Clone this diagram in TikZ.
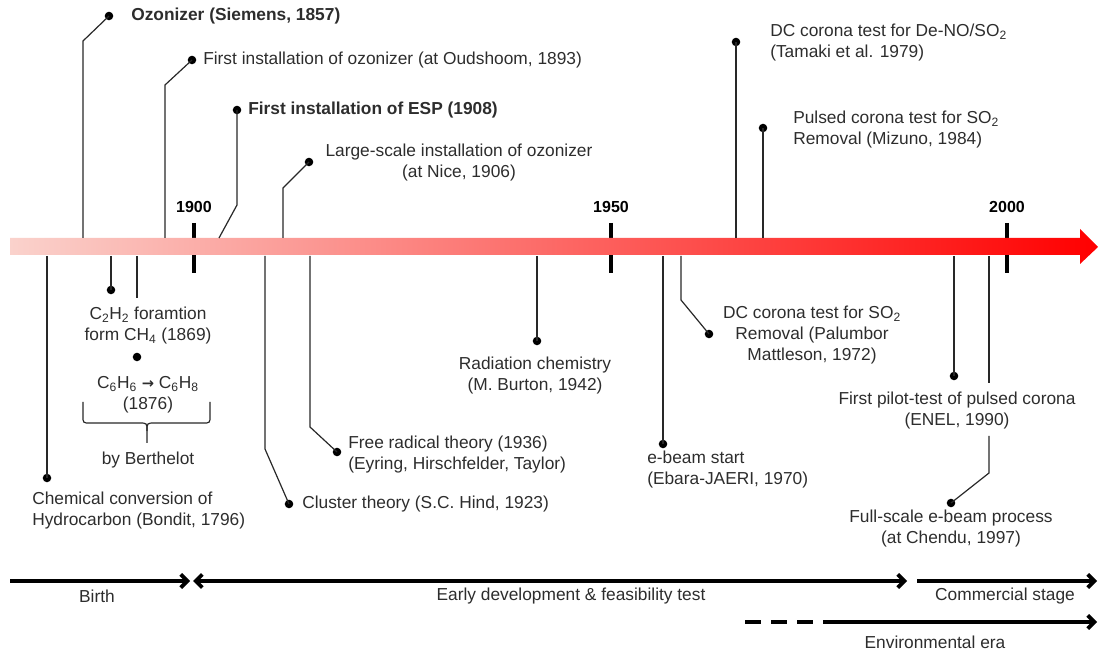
\documentclass[tikz,border=0pt]{standalone}
\usepackage{fontspec}
\setmainfont{Liberation Sans}
\newfontfamily\dejavu{DejaVu Sans}
\usetikzlibrary{arrows.meta}
\definecolor{txt}{RGB}{45,45,45}
\definecolor{lin}{RGB}{40,40,40}
\definecolor{barL}{RGB}{250,210,204}
\definecolor{barR}{RGB}{255,0,0}
\begin{document}
\begin{tikzpicture}[x=0.75pt,y=-0.75pt,
  every node/.style={inner sep=0pt, text=txt, font=\fontsize{13}{15.75}\selectfont},
  conn/.style={draw=lin, line width=0.9pt},
  pdot/.style={circle, fill=black, minimum size=6.4pt, inner sep=0pt},
  lbl/.style={anchor=west, align=left},
  clbl/.style={align=center},
  tickmark/.style={line width=2.3pt, black},
  yr/.style={font=\fontsize{12}{14}\selectfont\bfseries, text=black},
  era/.style={line width=2.8pt, black, -{Straight Barb[length=5pt,width=10pt]}},
  erab/.style={line width=2.8pt, black, {Straight Barb[length=5pt,width=10pt]}-{Straight Barb[length=5pt,width=10pt]}}]
\useasboundingbox (0,0) rectangle (1099,655);

% ticks and year labels
\foreach \x/\yy in {194/1900, 611/1950, 1007/2000}{
  \draw[tickmark] (\x,223) -- (\x,273);
  \node[yr] at (\x,207) {\yy};
}

% main bar
\shade[left color=barL, right color=barR] (10,238) -- (1080,238) -- (1080,229) -- (1098,247) -- (1080,264) -- (1080,255) -- (10,255) -- cycle;

% ---- events above the bar ----
\coordinate (b1) at (83,238);  \coordinate (k1) at (83,41);
\node[pdot] (d1) at (109,16) {};
\node[lbl, font=\fontsize{13}{15.75}\selectfont\bfseries] (t1) at (131,16) {Ozonizer (Siemens, 1857)};
\draw[conn] (b1) -- (k1) -- (d1.center);

\coordinate (b2) at (165,238); \coordinate (k2) at (165,85);
\node[pdot] (d2) at (192,60) {};
\node[lbl] (t2) at (203,60) {First installation of ozonizer (at Oudshoom, 1893)};
\draw[conn] (b2) -- (k2) -- (d2.center);

\coordinate (b3) at (219,238); \coordinate (k3) at (237,205);
\node[pdot] (d3) at (237,110) {};
\node[lbl, font=\fontsize{13}{15.75}\selectfont\bfseries] (t3) at (248,110) {First installation of ESP (1908)};
\draw[conn] (b3) -- (k3) -- (d3.center);

\coordinate (b4) at (283,238); \coordinate (k4) at (283,188);
\node[pdot] (d4) at (309,162) {};
\node[clbl] (t4) at (459,162.5) {Large-scale installation of ozonizer\\(at Nice, 1906)};
\draw[conn] (b4) -- (k4) -- (d4.center);

\coordinate (b5) at (736,238);
\node[pdot] (d5) at (736,42) {};
\node[lbl] (t5) at (770,43) {DC corona test for De-NO/SO\textsubscript{2}\\(Tamaki et al. 1979)};
\draw[conn] (b5) -- (d5.center);

\coordinate (b6) at (763,238);
\node[pdot] (d6) at (763,128) {};
\node[lbl] (t6) at (793,129.5) {Pulsed corona test for SO\textsubscript{2}\\Removal (Mizuno, 1984)};
\draw[conn] (b6) -- (d6.center);

% ---- events below the bar ----
\coordinate (b7) at (47,256);
\node[pdot] (d7) at (47,478) {};
\node[lbl] (t7) at (32,510.5) {Chemical conversion of\\Hydrocarbon (Bondit, 1796)};
\draw[conn] (b7) -- (d7.center);

\coordinate (b8) at (111,256);
\node[pdot] (d8) at (111,290) {};
\node[clbl] (t8) at (148,325.5) {C\textsubscript{2}H\textsubscript{2} foramtion\\form CH\textsubscript{4} (1869)};
\draw[conn] (b8) -- (d8.center);

\coordinate (b9) at (137,256); \coordinate (e9) at (137,298);
\node[pdot] (d9) at (137,357) {};
\node[clbl] (t9) at (148,395) {C\textsubscript{6}H\textsubscript{6} {\dejavu\bfseries\fontsize{11}{13}\selectfont →} C\textsubscript{6}H\textsubscript{8}\\(1876)};
\draw[conn] (b9) -- (e9);

\draw[conn] (83,402) -- (83,416) .. controls (83,423) .. (90,423) -- (139,423) .. controls (147,423) .. (147,431) -- (147,443);
\draw[conn] (210,402) -- (210,416) .. controls (210,423) .. (203,423) -- (155,423) .. controls (147,423) .. (147,431);
\node[clbl] (t9b) at (148,460) {by Berthelot};

\coordinate (b10) at (265,256); \coordinate (k10) at (265,449);
\node[pdot] (d10) at (289,504) {};
\node[lbl] (t10) at (302,504) {Cluster theory (S.C. Hind, 1923)};
\draw[conn] (b10) -- (k10) -- (d10.center);

\coordinate (b11) at (310,256); \coordinate (k11) at (310,427);
\node[pdot] (d11) at (337,452) {};
\node[lbl] (t11) at (348,455) {Free radical theory (1936)\\(Eyring, Hirschfelder, Taylor)};
\draw[conn] (b11) -- (k11) -- (d11.center);

\coordinate (b12) at (537,256);
\node[pdot] (d12) at (537,341) {};
\node[clbl] (t12) at (535,375.5) {Radiation chemistry\\(M. Burton, 1942)};
\draw[conn] (b12) -- (d12.center);

\coordinate (b13) at (663,256);
\node[pdot] (d13) at (663,444) {};
\node[lbl] (t13) at (647,469.5) {e-beam start\\(Ebara-JAERI, 1970)};
\draw[conn] (b13) -- (d13.center);

\coordinate (b14) at (681,256); \coordinate (k14) at (681,300);
\node[pdot] (d14) at (709,334) {};
\node[clbl] (t14) at (812,335.5) {DC corona test for SO\textsubscript{2}\\Removal (Palumbor\\Mattleson, 1972)};
\draw[conn] (b14) -- (k14) -- (d14.center);

\coordinate (b15) at (954,256);
\node[pdot] (d15) at (954,376) {};
\node[clbl] (t15) at (957,411) {First pilot-test of pulsed corona\\(ENEL, 1990)};
\draw[conn] (b15) -- (d15.center);

\coordinate (b16) at (989,256); \coordinate (g16a) at (989,383);
\coordinate (g16b) at (989,436); \coordinate (k16) at (989,473);
\node[pdot] (d16) at (951,503) {};
\node[clbl] (t16) at (951,529) {Full-scale e-beam process\\(at Chendu, 1997)};
\draw[conn] (b16) -- (g16a);
\draw[conn] (g16b) -- (k16) -- (d16.center);

% ---- eras ----
\coordinate (p1) at (10,581);  \coordinate (p2) at (190,581);
\coordinate (p3) at (193,581); \coordinate (p4) at (907,581);
\coordinate (p5) at (917,581); \coordinate (p6) at (1097,581);
\coordinate (q1) at (745,622); \coordinate (q2) at (832,622); \coordinate (q3) at (1097,622);
\draw[era] (p1) -- (p2);
\draw[erab] (p3) -- (p4);
\draw[era] (p5) -- (p6);
\draw[line width=2.8pt, black, dash pattern=on 12pt off 7.5pt] (q1) -- (q2);
\draw[era] (q2) -- (q3);
\node (lb) at (97,596) {Birth};
\node (le) at (571,596) {Early development \& feasibility test};
\node (lc) at (1005,596) {Commercial stage};
\node (lv) at (935,642) {Environmental era};
\end{tikzpicture}
\end{document}
